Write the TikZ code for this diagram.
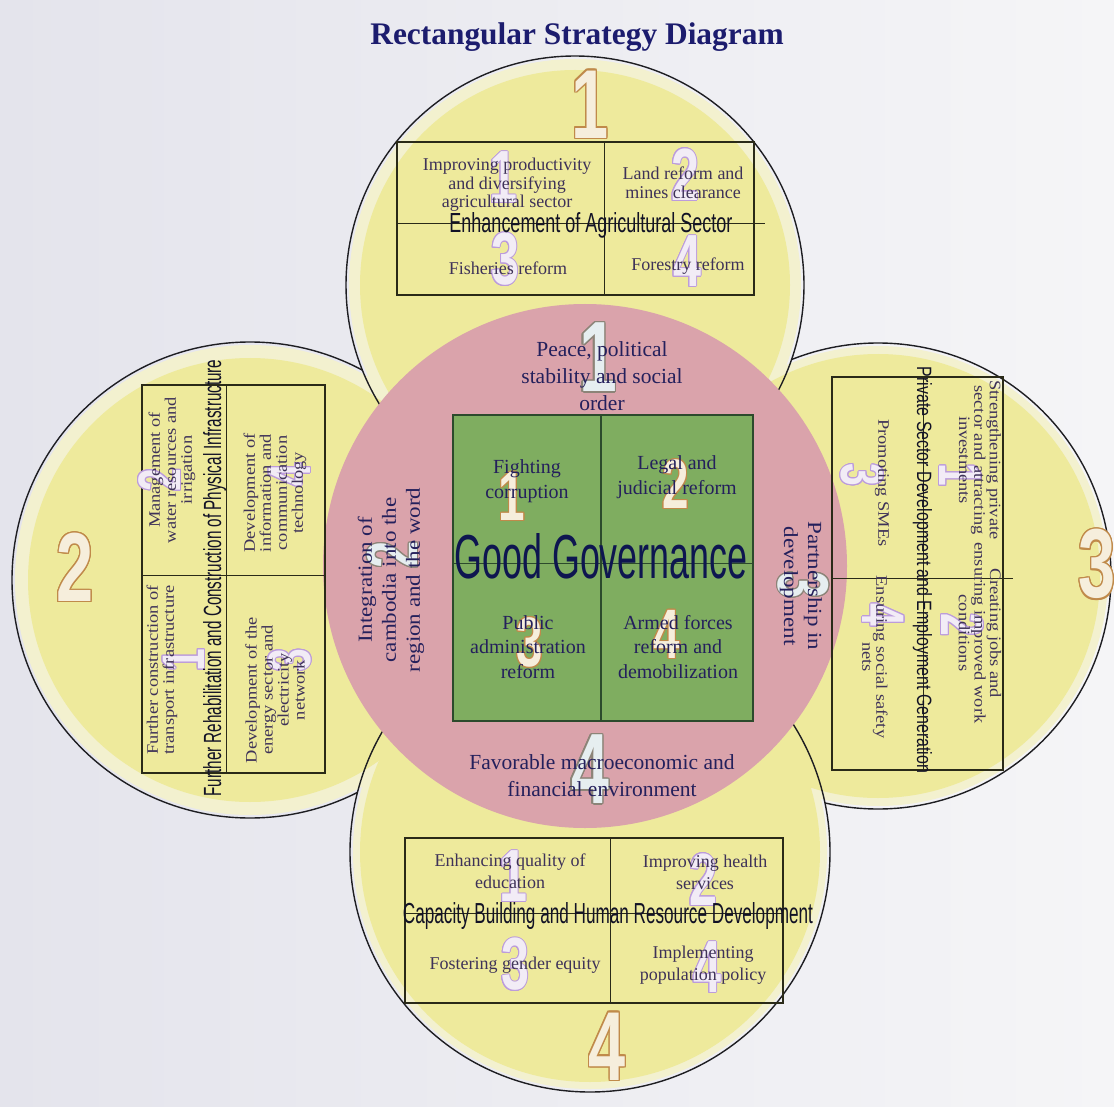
\documentclass[tikz,border=0pt]{standalone}
\usepackage{fontspec}
\setmainfont{Liberation Serif}
\setsansfont{Liberation Sans}
\newfontfamily\numfont[FakeStretch=0.68]{Liberation Sans}
\newfontfamily\rserif[FakeStretch=1.15]{Liberation Serif}
\usepackage[copies]{contour}
\contourlength{1.4pt}
\newcommand\ond[3][1.4pt]{\contourlength{#1}\contour{#2}{#3}}
\definecolor{bgl}{HTML}{E4E4EC}
\definecolor{bgr}{HTML}{F5F5F7}
\definecolor{yelc}{HTML}{EEEA9C}
\definecolor{yell}{HTML}{F3F1CF}
\definecolor{pinkc}{HTML}{DAA3AB}
\definecolor{greenc}{HTML}{7FAD60}
\definecolor{gline}{HTML}{2C4A2C}
\definecolor{linec}{HTML}{1E1E22}
\definecolor{boxc}{HTML}{2A2A18}
\definecolor{itemc}{HTML}{3E3258}
\definecolor{navyc}{HTML}{24205C}
\definecolor{headc}{HTML}{121226}
\definecolor{ggc}{HTML}{0E1650}
\definecolor{titlec}{HTML}{1C1C6E}
\definecolor{numline}{HTML}{C08A4A}
\definecolor{numfill}{HTML}{F6EEDC}
\definecolor{pnumline}{HTML}{8C8478}
\definecolor{pnumfill}{HTML}{E6EEF0}
\definecolor{vnumline}{HTML}{BC9CDC}
\definecolor{vnumfill}{HTML}{F2ECF6}
\begin{document}
\begin{tikzpicture}[x=1pt,y=-1pt,
  outline/.style={draw=linec,line width=1.4pt},
  boxline/.style={draw=boxc,line width=1.6pt},
  divline/.style={draw=boxc,line width=0.9pt},
  itemY/.style={align=center,inner sep=0pt,text=itemc,font=\fontsize{18}{18.5}\selectfont},
  itemB/.style={align=center,inner sep=0pt,text=itemc,font=\fontsize{18}{22}\selectfont},
  itemP/.style={align=center,inner sep=0pt,text=navyc,font=\fontsize{21.5}{27}\selectfont},
  itemPr/.style={align=center,inner sep=0pt,text=navyc,font=\rserif\fontsize{20}{24}\selectfont},
  itemG/.style={align=center,inner sep=0pt,text=navyc,font=\fontsize{20}{24.5}\selectfont},
  itemL/.style={align=center,inner sep=0pt,text=itemc,font=\rserif\fontsize{16}{16}\selectfont},
  itemR/.style={align=center,inner sep=0pt,text=itemc,font=\rserif\fontsize{16}{14}\selectfont},
  heading/.style={inner sep=0pt,anchor=base,text=headc,font=\sffamily},
  bignum/.style={inner sep=0pt,text=numfill,font=\numfont\bfseries\fontsize{98}{98}\selectfont},
  pnum/.style={inner sep=0pt,text=pnumfill,font=\numfont\bfseries\fontsize{100}{100}\selectfont},
  pnums/.style={inner sep=0pt,text=pnumfill,font=\numfont\bfseries\fontsize{72}{72}\selectfont},
  gnum/.style={inner sep=0pt,text=numfill,font=\numfont\bfseries\fontsize{70}{70}\selectfont},
  vnum/.style={inner sep=0pt,text=vnumfill,font=\numfont\bfseries\fontsize{74}{74}\selectfont},
  vnums/.style={inner sep=0pt,text=vnumfill,font=\numfont\bfseries\fontsize{60}{60}\selectfont}]
\useasboundingbox (0,0) rectangle (1114,1107);
\shade[left color=bgl,right color=bgr] (0,0) rectangle (1114,1107);
% circle centres
\coordinate (cT) at (575,285);
\coordinate (cL) at (250,580);
\coordinate (cR) at (878,576);
\coordinate (cB) at (590,852);
\coordinate (cP) at (585,566);
% yellow fills
\fill[yell] (cT) circle (226);
\fill[yell] (cL) circle (235);
\fill[yell] (cR) circle (230);
\fill[yell] (cB) circle (237);
\fill[yelc] (cT) circle (215);
\fill[yelc] (cL) circle (222);
\fill[yelc] (cR) circle (222);
\fill[yelc] (cB) circle (230);
% pink circle
\fill[pinkc] (cP) circle (262);
% outlines
\begin{scope}[even odd rule]
  \clip (-100,-100) rectangle (1300,1300) (cP) circle (262);
  \draw[outline] (cT) circle (229);
  \draw[outline] (cB) circle (240);
  \begin{scope}
    \clip (-100,-100) rectangle (1300,1300) (cT) circle (229);
    \clip (-100,-100) rectangle (1300,1300) (cB) circle (240);
    \draw[outline] (cL) circle (238);
    \draw[outline] (cR) circle (233);
  \end{scope}
\end{scope}
% green square
\fill[greenc] (453,415) rectangle (753,721);
\draw[gline,line width=0.6pt] (453,563) -- (753,563);
\draw[gline,line width=1.1pt] (601,415) -- (601,721);
\draw[gline,line width=1.4pt] (453,415) rectangle (753,721);
% boxes
\draw[boxline] (397,142) rectangle (754,295);
\draw[divline] (604,142) -- (604,295);
\draw[divline] (397,223) -- (765,223);
\draw[boxline] (405,838) rectangle (783,1003);
\draw[divline] (610,838) -- (610,1003);
\draw[divline] (405,913) -- (783,913);
\draw[boxline] (142,385) rectangle (325,773);
\draw[divline] (142,575) -- (325,575);
\draw[divline] (226,385) -- (226,773);
\draw[boxline] (832,377) rectangle (1003,770);
\draw[divline] (832,578) -- (1013,578);
\draw[divline] (923,377) -- (923,770);
% big outer numbers
\node[bignum] (n1) at (590,105) {\ond{numline}{1}};
\node[bignum] (n2) at (75,568) {\ond{numline}{2}};
\node[bignum] (n3) at (1097,565) {\ond{numline}{3}};
\node[bignum] (n4) at (607,1047) {\ond{numline}{4}};
% pink numbers
\node[pnum] (pn1) at (598,358) {\ond{pnumline}{1}};
\node[pnums,rotate=90] (pn2) at (393,555) {\ond[1.1pt]{pnumline}{2}};
\node[pnums,rotate=-90] (pn3) at (803,585) {\ond[1.1pt]{pnumline}{3}};
\node[pnum] (pn4) at (590,770) {\ond{pnumline}{4}};
% green numbers
\node[gnum] (gn1) at (512,497) {\ond[1.1pt]{numline}{1}};
\node[gnum] (gn2) at (676,485) {\ond[1.1pt]{numline}{2}};
\node[gnum] (gn3) at (530,643) {\ond[1.1pt]{numline}{3}};
\node[gnum] (gn4) at (667,635) {\ond[1.1pt]{numline}{4}};
% faint box numbers
\node[vnum] (tn1) at (503,178) {\ond[1pt]{vnumline}{1}};
\node[vnum] (tn2) at (685,175) {\ond[1pt]{vnumline}{2}};
\node[vnum] (tn3) at (505,260) {\ond[1pt]{vnumline}{3}};
\node[vnum] (tn4) at (687,262) {\ond[1pt]{vnumline}{4}};
\node[vnum] (bn1) at (513,877) {\ond[1pt]{vnumline}{1}};
\node[vnum] (bn2) at (703,880) {\ond[1pt]{vnumline}{2}};
\node[vnum] (bn3) at (515,965) {\ond[1pt]{vnumline}{3}};
\node[vnum] (bn4) at (707,968) {\ond[1pt]{vnumline}{4}};
\node[vnums,rotate=90] (ln1) at (184,660) {\ond[1pt]{vnumline}{1}};
\node[vnums,rotate=90] (ln2) at (160,480) {\ond[1pt]{vnumline}{2}};
\node[vnums,rotate=90] (ln3) at (290,660) {\ond[1pt]{vnumline}{3}};
\node[vnums,rotate=90] (ln4) at (290,475) {\ond[1pt]{vnumline}{4}};
\node[vnums,rotate=-90] (rn1) at (960,475) {\ond[1pt]{vnumline}{1}};
\node[vnums,rotate=-90] (rn2) at (962,625) {\ond[1pt]{vnumline}{2}};
\node[vnums,rotate=-90] (rn3) at (862,475) {\ond[1pt]{vnumline}{3}};
\node[vnums,rotate=-90] (rn4) at (883,615) {\ond[1pt]{vnumline}{4}};
% title
\node[inner sep=0pt,anchor=base,text=titlec,font=\bfseries\fontsize{31.4}{32}\selectfont] (title) at (577,45) {Rectangular Strategy Diagram};
% top box items
\node[itemY] (t1) at (507,185) {Improving productivity\\and diversifying\\agricultural sector};
\node[itemY] (t2) at (683,183) {Land reform and\\mines clearance};
\node[itemY] (t3) at (508,268) {Fisheries reform};
\node[itemY] (t4) at (688,266) {Forestry reform};
\node[heading] (th) at (591,233) {\resizebox{283pt}{20pt}{Enhancement of Agricultural Sector}};
% bottom box items
\node[itemB] (b1) at (510,871) {Enhancing quality of\\education};
\node[itemB] (b2) at (705,872) {Improving health\\services};
\node[itemB] (b3) at (515,965) {Fostering gender equity};
\node[itemB] (b4) at (703,965) {Implementing\\population policy};
\node[heading] (bh) at (608,923) {\resizebox{410pt}{21pt}{Capacity Building and Human Resource Development}};
% left box items
\node[itemL,rotate=90] (l1) at (162,670) {Further construction of\\transport infrastructure};
\node[itemL,rotate=90] (l2) at (172,470) {Management of\\water resources and\\irrigation};
\node[itemL,rotate=90] (l3) at (275,690) {Development of the\\energy sector and\\electricity\\network};
\node[itemL,rotate=90] (l4) at (275,493) {Development of\\information and\\communication\\technology};
\node[heading,rotate=90] (lh) at (221,578) {\resizebox{437pt}{18pt}{Further Rehabilitation and Construction of Physical Infrastructure}};
% right box items
\node[itemR,rotate=-90] (r1) at (980,460) {Strengthening private\\sector and attracting\\investments};
\node[itemR,rotate=-90] (r2) at (980,633) {Creating jobs and\\ensuring improved work\\conditions};
\node[itemR,rotate=-90] (r3) at (882,483) {Promoting SMEs};
\node[itemR,rotate=-90] (r4) at (875,657) {Ensuring social safety\\nets};
\node[heading,rotate=-90] (rh) at (917,570) {\resizebox{406pt}{15pt}{Private Sector Development and Employment Generation}};
% pink circle items
\node[itemP] (p1) at (602,376) {Peace, political\\stability and social\\order};
\node[itemPr,rotate=90] (p2) at (391,580) {Integration of\\cambodia into the\\region and the word};
\node[itemPr,rotate=-90] (p3) at (801,586) {Partnership in\\development};
\node[itemP] (p4) at (602,776) {Favorable macroeconomic and\\financial environment};
% green items
\node[itemG] (g1) at (527,481) {Fighting\\corruption};
\node[itemG] (g2) at (677,477) {Legal and\\judicial reform};
\node[itemG] (g3) at (528,647) {Public\\administration\\reform};
\node[itemG] (g4) at (678,647) {Armed forces\\reform and\\demobilization};
\node[inner sep=0pt,anchor=base,text=ggc,font=\sffamily] (gg) at (601,578) {\resizebox{293pt}{45pt}{Good Governance}};
\end{tikzpicture}
\end{document}
